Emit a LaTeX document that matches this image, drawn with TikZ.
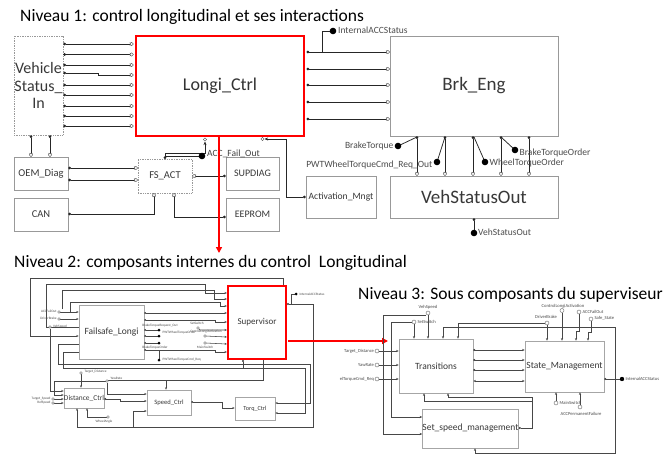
\documentclass[tikz,border=0pt]{standalone}
\usepackage{fontspec}
\setmainfont{Carlito}
\usetikzlibrary{arrows.meta,calc}
\newcommand\mybox[7]{\node[#6,minimum width={#4-#2},minimum height={#5-#3}] (#1) at ({(#2+#4)/2},{(#3+#5)/2}) {#7};}
\newcommand\oport[2][1.7pt]{\draw[line width=0.4pt,draw=black!70,fill=white] #2 circle (#1);}
\newcommand\bdot[2][3.3pt]{\fill[black] #2 circle (#1);}
\tikzset{
  fs/.style={font=\fontsize{#1}{#1}\selectfont},
  gbox/.style={draw=black!40,line width=0.7pt,inner sep=0pt,text=black!78},
  dbox/.style={gbox,densely dotted},
  rbox/.style={draw=red,line width=2.6pt,inner sep=0pt,text=black!80},
  sig/.style={line width=0.75pt,draw=black!85,{Circle[length=2.6pt]}-{Stealth[length=3.6pt,width=3pt]}},
  wire/.style={line width=0.75pt,draw=black!85},
  lab/.style={fs=9.5,text=black!70,inner sep=0.5pt},
  g2/.style={draw=black!35,line width=0.6pt,inner sep=0pt,text=black!78},
  r2/.style={draw=red,line width=2.2pt,inner sep=0pt,text=black!78},
  w2/.style={line width=0.55pt,draw=black!72},
  a2/.style={w2,-{Stealth[length=2.4pt,width=2pt]}},
  d2/.style={w2,{Circle[length=1.8pt]}-{Stealth[length=2.4pt,width=2pt]}},
  p2/.style={line width=0.35pt,draw=black!60,fill=white},
  t2/.style={fs=3.4,text=black!70,inner sep=0.3pt},
  t3/.style={fs=4.6,text=black!70,inner sep=0.3pt},
  redarrow/.style={draw=red,line width=2.4pt,-{Triangle[length=6pt,width=6pt]}},
  title/.style={fs=17.5,anchor=base west,inner sep=0pt,text=black},
}
\begin{document}
\begin{tikzpicture}[x=1pt,y=-1pt]
\useasboundingbox (0,0) rectangle (667,455);
\fill[white] (0,0) rectangle (667,455);

% ================= Level 1 =================
\node[title] (T1) at (20,21) {Niveau 1: control longitudinal et ses interactions};

\mybox{VSI}{14}{36}{63}{135}{dbox,align=center,font=\fontsize{16}{17.5}\selectfont}{Vehicle\\Status\_\\In}
\mybox{LC}{136}{36}{304}{136}{rbox,fs=18}{Longi\_Ctrl}
\mybox{BE}{390}{36}{558}{136}{gbox,fs=19}{Brk\_Eng}
\mybox{VSO}{390}{176}{558}{218}{gbox,fs=19}{VehStatusOut}
\mybox{AM}{306}{176}{376}{218}{gbox,fs=9.6}{Activation\_Mngt}
\mybox{FSA}{138}{159}{192}{193}{dbox,fs=10.5}{FS\_ACT}
\mybox{OEM}{14}{157}{68}{190}{gbox,fs=10.5}{OEM\_Diag}
\mybox{CAN}{14}{198}{68}{231}{gbox,fs=10.5}{CAN}
\mybox{SUP}{226}{157}{279}{190}{gbox,fs=10}{SUPDIAG}
\mybox{EEP}{226}{198}{279}{231}{gbox,fs=10}{EEPROM}

% Vehicle Status In -> Longi_Ctrl
\foreach \y in {44,54.5,65,85,95,106,116,126}{
  \draw[sig] (VSI.east|-0,\y) -- ($(LC.west|-0,\y)+(-1.3,0)$);
  \oport{($(LC.west|-0,\y)+(-3.1,0)$)}
}
\draw[sig] (VSI.east|-0,73) -- (98,73) -- (98,75) -- ($(LC.west|-0,75)+(-1.3,0)$);
\oport{($(LC.west|-0,75)+(-3.1,0)$)}

% Longi_Ctrl -> Brk_Eng
\foreach \y in {52,69,85,102,119}{
  \draw[sig] ($(LC.east|-0,\y)+(1.3,0)$) -- (BE.west|-0,\y);
  \oport{($(BE.west|-0,\y)+(-1.8,0)$)}
}
\coordinate (IASd) at (333,31);
\draw[wire,-{Stealth[length=3pt,width=3pt]}] (322,52) -- (322,31) -- (IASd);
\bdot{(IASd)}
\node[fs=9.5,text=black!70,anchor=west,inner sep=0pt] (IASl) at (338,30.5) {InternalACCStatus};

% Brk_Eng -> VehStatusOut
\foreach \x in {417,445,473,501,529}{
  \draw[sig] (\x,0|-BE.south) -- (\x,0|-VSO.north);
  \oport{($(\x,0|-VSO.north)+(0,-1.8)$)}
}
\coordinate (BTd) at (398,146);
\coordinate (PWd) at (437,162);
\coordinate (WTd) at (485,162);
\coordinate (BOd) at (515,150);
\draw[wire] (417,137) -- (BTd);
\draw[wire] (445,137) -- (PWd);
\draw[wire] (474,137) -- (WTd);
\draw[wire] (501,137) -- (BOd);
\bdot{(BTd)} \bdot{(PWd)} \bdot{(WTd)} \bdot{(BOd)}
\node[lab,anchor=east] (BTl) at (394,146) {BrakeTorque};
\node[lab,anchor=east] (PWl) at (433,165) {PWTWheelTorqueCmd\_Req\_Out};
\node[lab,anchor=west] (WTl) at (489,163) {WheelTorqueOrder};
\node[lab,anchor=west] (BOl) at (519,153) {BrakeTorqueOrder};

\coordinate (VSOd) at (474,233);
\draw[wire,{Circle[length=2.6pt]}-] (474,0|-VSO.south) -- (VSOd);
\bdot{(VSOd)}
\node[fs=9.5,text=black!70,anchor=west,inner sep=0pt] (VSOl) at (478,232) {VehStatusOut};

% Activation_Mngt -> Longi_Ctrl
\draw[sig] (AM.west) -- (286,0|-AM.west) -- (286,139) -- (264.5,139);
\oport{(262.5,139)}

% FS_ACT top
\coordinate (AFd) at (202,156);
\draw[wire,{Circle[length=2.6pt]}-{Stealth[length=3.6pt,width=3pt]}] (165,159) -- (165,153) -- (205,153) -- (205,141.5);
\oport{(205,139.5)}
\draw[wire,-{Stealth[length=3pt,width=3pt]}] (165,156) -- (AFd);
\bdot{(AFd)}
\node[fs=9.5,text=black!75,anchor=west,inner sep=0pt] (AFl) at (207,154) {ACC\_Fail\_Out};

% OEM_Diag -> FS_ACT
\foreach \y in {168,180}{
  \draw[sig] (OEM.east|-0,\y) -- (FSA.west|-0,\y);
  \oport{($(FSA.west|-0,\y)+(-1.8,0)$)}
}
% SUPDIAG -> FS_ACT
\draw[sig] (SUP.west|-0,176) -- (FSA.east|-0,176);
\oport{($(FSA.east|-0,176)+(1.8,0)$)}
% EEPROM -> FS_ACT
\draw[sig] (EEP.west|-0,217) -| (174,0|-FSA.south);
\oport{($(174,0|-FSA.south)+(0,1.8)$)}
% CAN -> FS_ACT
\draw[sig] (CAN.east|-0,214) -| (154,0|-FSA.south);
\oport{($(154,0|-FSA.south)+(0,1.8)$)}
% Vehicle Status In -> OEM_Diag
\foreach \x in {31,50}{
  \draw[sig] (\x,0|-VSI.south) -- (\x,0|-OEM.north);
  \oport{($(\x,0|-OEM.north)+(0,-1.8)$)}
}

% red arrow down
\draw[redarrow] (219,0|-LC.south) -- (219,253);

% ================= Level 2 =================
\node[title] (T2) at (14,267) {Niveau 2: composants internes du control\ \ Longitudinal};

\mybox{FL}{79}{305}{144}{359}{g2,fs=9.5}{Failsafe\_Longi}
\mybox{SV}{228}{286}{286}{359}{r2,fs=9}{Supervisor}
\mybox{DC}{64}{388}{104}{408}{g2,fs=7.4}{Distance\_Ctrl}
\mybox{SC}{147}{390}{191}{415}{g2,fs=6.6}{Speed\_Ctrl}
\mybox{TC}{235}{397}{275}{420}{g2,fs=6.2}{Torq\_Ctrl}

% loops on top
\draw[a2] (283,285) -- (283,278) -- (30,278) -- (30,336) -- (FL.west|-0,336);
\draw[a2] (FL.west|-0,327) -- (46,327) -- (46,284) -- (205,284) -- (205,293) -- (SV.west|-0,293);
\draw[a2] (62,309) -- (62,290) -- (214,290) -- (214,299) -- (SV.west|-0,299);
\draw[a2] (70,312) -- (70,302) -- (220,302) -- (220,306) -- (SV.west|-0,306);
% circles into FL
\coordinate (ACFo) at (59,312);
\coordinate (DBo) at (59,319);
\draw[a2] (ACFo) -- (FL.west|-0,312);
\draw[a2] (DBo) -- (FL.west|-0,319);
\draw[p2] (ACFo) circle (1.3pt);
\draw[p2] (DBo) circle (1.3pt);
\node[t2,anchor=east] at (57,311) {ACCFailOut};
\node[t2,anchor=east] at (57,318) {DriverBrake};
% VehSpeed
\coordinate (VSo) at (50,327);
\draw[a2] (50,328.5) -- (50,391) -- (DC.west|-0,391);
\draw[p2] (VSo) circle (1.3pt);
\node[t2,anchor=west] at (52.5,327) {VehSpeed};

% FL -> SV
\draw[d2] (FL.east|-0,313) -- (SV.west|-0,313);
\draw[d2] (FL.east|-0,320) -- (215,320) -- (215,322) -- (SV.west|-0,322);
\draw[d2] (FL.east|-0,350) -- (215,350) -- (215,352) -- (SV.west|-0,352);
% FL -> big dots
\foreach \y in {330,336,343}{
  \draw[w2,{Circle[length=1.8pt]}-] (FL.east|-0,\y) -- (159,\y);
  \fill (159,\y) circle (1.5pt);
}
\draw[w2] (159,350) -- (159,360);
\fill (159,360) circle (1.5pt);
\node[t2] at (160,326) {BrakeTorqueRequest\_Out};
\node[t2,anchor=west] at (162,333) {PWTWheelTorqueOrder};
\node[t2] at (155,347.5) {BrakeTorqueOrder};
\node[t2,anchor=west] at (162,360) {PWTWheelTorqueCmd\_Req};
% inputs to SV
\coordinate (SSo) at (198,328);
\coordinate (CLAo) at (205,336);
\coordinate (MSo) at (205,343);
\draw[a2] (SSo) -- (200,330) -- (SV.west|-0,330);
\draw[a2] (CLAo) -- (SV.west|-0,337);
\draw[a2] (MSo) -- (SV.west|-0,344);
\draw[p2] (SSo) circle (1.3pt);
\draw[p2] (CLAo) circle (1.3pt);
\draw[p2] (MSo) circle (1.3pt);
\node[t2] at (197,323.5) {SetSwitch};
\node[t2] at (206,331.5) {ControlLongiActivation};
\node[t2] at (205,347.5) {MainSwitch};

% SV right output
\draw[w2,{Circle[length=1.8pt]}-] (SV.east|-0,304) -- (291,304) -- (291,294) -- (295,294);
\fill (296,294) circle (1.5pt);
\node[t2,anchor=west] at (299,294) {InternalACCStatus};
\draw[a2] (291,304) -- (313,304) -- (313,427) -- (77,427) -- (77,0|-DC.south);
\draw[a2] (133,427) -- (133,411) -- (SC.west|-0,411);

% lower loops to Torq_Ctrl
\draw[a2] (FL.west|-0,344) -- (58,344) -- (58,364) -- (310,364) -- (310,403) -- (TC.east|-0,403);
\draw[a2] (FL.west|-0,352) -- (63,352) -- (63,368) -- (305,368) -- (305,413) -- (TC.east|-0,413);
\draw[w2,{Circle[length=1.8pt]}-] (243,0|-SV.south) -- (243,368);
\draw[a2] (263,0|-SV.south) -- (263,380) -- (166,380) -- (166,0|-SC.north);

% YawRate
\coordinate (YRo) at (107,381);
\draw[a2] (107,382.5) -- (107,394) -- (SC.west|-0,394);
\draw[w2] (108.3,380.5) -- (166,380.5);
\draw[a2] (105.7,381) -- (54,381) -- (54,395) -- (DC.west|-0,395);
\draw[p2] (YRo) circle (1.3pt);
\node[t2,anchor=west] at (110,378.5) {YawRate};
% Target_Distance
\coordinate (TDo) at (81,373);
\draw[a2] (81,374.3) -- (81,0|-DC.north);
\draw[p2] (TDo) circle (1.3pt);
\node[t2,anchor=west] at (84,372) {Target\_Distance};
% Target_Speed / RefSpeed
\coordinate (TSo) at (53,399);
\coordinate (RSo) at (53,403);
\draw[a2] (TSo) -- (DC.west|-0,399);
\draw[a2] (RSo) -- (DC.west|-0,403);
\draw[p2] (TSo) circle (1.3pt);
\draw[p2] (RSo) circle (1.3pt);
\node[t2,anchor=east] at (51,398.5) {Target\_Speed};
\node[t2,anchor=east] at (51,402.5) {RefSpeed};
% DC -> SC
\draw[d2] (DC.east|-0,399) -- (120,399) -- (120,401) -- (SC.west|-0,401);
% WheelAngle
\coordinate (WAo) at (108,417);
\draw[a2] (106.7,417) -- (87,417) -- (87,0|-DC.south);
\draw[p2] (WAo) circle (1.3pt);
\node[t2] at (104,422) {WheelAngle};
% SC -> TC
\draw[d2] (SC.east|-0,402) -- (222,402) -- (222,408) -- (TC.west|-0,408);

% red arrow level 2 -> level 3
\draw[redarrow] ($(SV.east|-0,341)+(1,0)$) -- (388,341);

% ================= Level 3 =================
\node[title] (T3) at (358,299) {Niveau 3: Sous composants du superviseur};

\mybox{TR}{399}{339}{473}{393}{g2,fs=9.5}{Transitions}
\mybox{SM}{525}{341}{604}{392}{g2,fs=9.5}{State\_Management}
\mybox{SSM}{423}{409}{518}{448}{g2,fs=9.5}{Set\_speed\_management}

\tikzset{a3/.style={line width=0.6pt,draw=black!72,-{Stealth[length=2.6pt,width=2.2pt]}},
         d3/.style={a3,{Circle[length=2pt]}-{Stealth[length=2.6pt,width=2.2pt]}},
         p3/.style={line width=0.4pt,draw=black!60,fill=white}}

% TR -> SM
\foreach \y in {350,360,370}{
  \draw[d3] (TR.east|-0,\y) -- (SM.west|-0,\y);
}
\draw[a3,{Stealth[length=2.6pt,width=2.2pt]}-{Stealth[length=2.6pt,width=2.2pt]}] (TR.east|-0,381) -- (SM.west|-0,381);
% SM output
\coordinate (IAS3) at (622,379);
\draw[line width=0.6pt,draw=black!72,{Circle[length=2pt]}-] (SM.east|-0,379) -- (IAS3);
\fill (IAS3) circle (2.2pt);
\node[t3,anchor=west] at (625,379) {InternalACCStatus};
\draw[a3] (615,379) -- (615,327) -- (443,327) -- (443,0|-TR.north);
\draw[a3] (615,379) -- (615,453) -- (475,453) -- (475,0|-SSM.south);
% VehSpeed / SetSwitch
\coordinate (VS3) at (428,313);
\coordinate (SS3) at (414,322);
\draw[a3] (428,315) -- (428,0|-TR.north);
\draw[a3] (426,315) -- (383,315) -- (383,434) -- (SSM.west|-0,434);
\draw[a3] (414,324) -- (414,0|-TR.north);
\draw[a3] (412,322) -- (391,322) -- (391,417) -- (SSM.west|-0,417);
\draw[p3] (VS3) circle (2pt);
\draw[p3] (SS3) circle (2pt);
\node[t3] at (428,307) {VehSpeed};
\node[t3,anchor=west] at (417,321.5) {SetSwitch};
% DriverBrake
\coordinate (DB3) at (547,323);
\draw[a3] (545,323) -- (458,323) -- (458,0|-TR.north);
\draw[a3] (547,325) -- (547,0|-SM.north);
\draw[p3] (DB3) circle (2pt);
\node[t3] at (546,316.5) {DriverBrake};
% ControlLongiActivation
\coordinate (CLA3) at (562,310.5);
\draw[a3] (562,312.5) -- (562,0|-SM.north);
\draw[p3] (CLA3) circle (2pt);
\node[t3] at (563,306) {ControlLongiActivation};
% ACCFailOut
\coordinate (AF3) at (579,312);
\draw[a3] (579,314) -- (579,331) -- (576,331) -- (576,0|-SM.north);
\draw[p3] (AF3) circle (2pt);
\node[t3,anchor=west] at (582,311.5) {ACCFailOut};
% Safe_State
\coordinate (SF3) at (591,319);
\draw[a3] (591,321) -- (591,332) -- (588,332) -- (588,0|-SM.north);
\draw[p3] (SF3) circle (2pt);
\node[t3,anchor=west] at (594,318.5) {Safe\_State};
% MainSwitch / ACCPermanentFailure
\coordinate (MS3) at (556,403);
\coordinate (APF3) at (580,407);
\draw[a3] (556,401) -- (556,0|-SM.south);
\draw[a3] (580,405) -- (580,0|-SM.south);
\draw[p3] (MS3) circle (2pt);
\draw[p3] (APF3) circle (2pt);
\node[t3,anchor=west] at (559,403) {MainSwitch};
\node[t3] at (581,414) {ACCPermanentFailure};
% left inputs of Transitions
\coordinate (TD3) at (377,351);
\coordinate (YR3) at (377,365);
\coordinate (ET3) at (377,379);
\foreach \c/\y in {TD3/351,YR3/365,ET3/379}{
  \draw[a3] ($(\c)+(2,0)$) -- (TR.west|-0,\y);
  \draw[p3] (\c) circle (2pt);
}
\node[t3,anchor=east] at (374.5,351) {Target\_Distance};
\node[t3,anchor=east] at (374.5,365) {YawRate};
\node[t3,anchor=east] at (374.5,379) {elTorqueCmd\_Req};
% Set_speed_management -> Transitions
\draw[line width=0.6pt,draw=black!72,{Circle[length=2pt]}-] (SSM.east|-0,428) -- (532,428) -- (532,397);
\draw[a3] (532,397) -- (448,397) -- (448,0|-TR.south);
\draw[a3] (532,401) -- (424,401) -- (424,0|-TR.south);
\end{tikzpicture}
\end{document}
